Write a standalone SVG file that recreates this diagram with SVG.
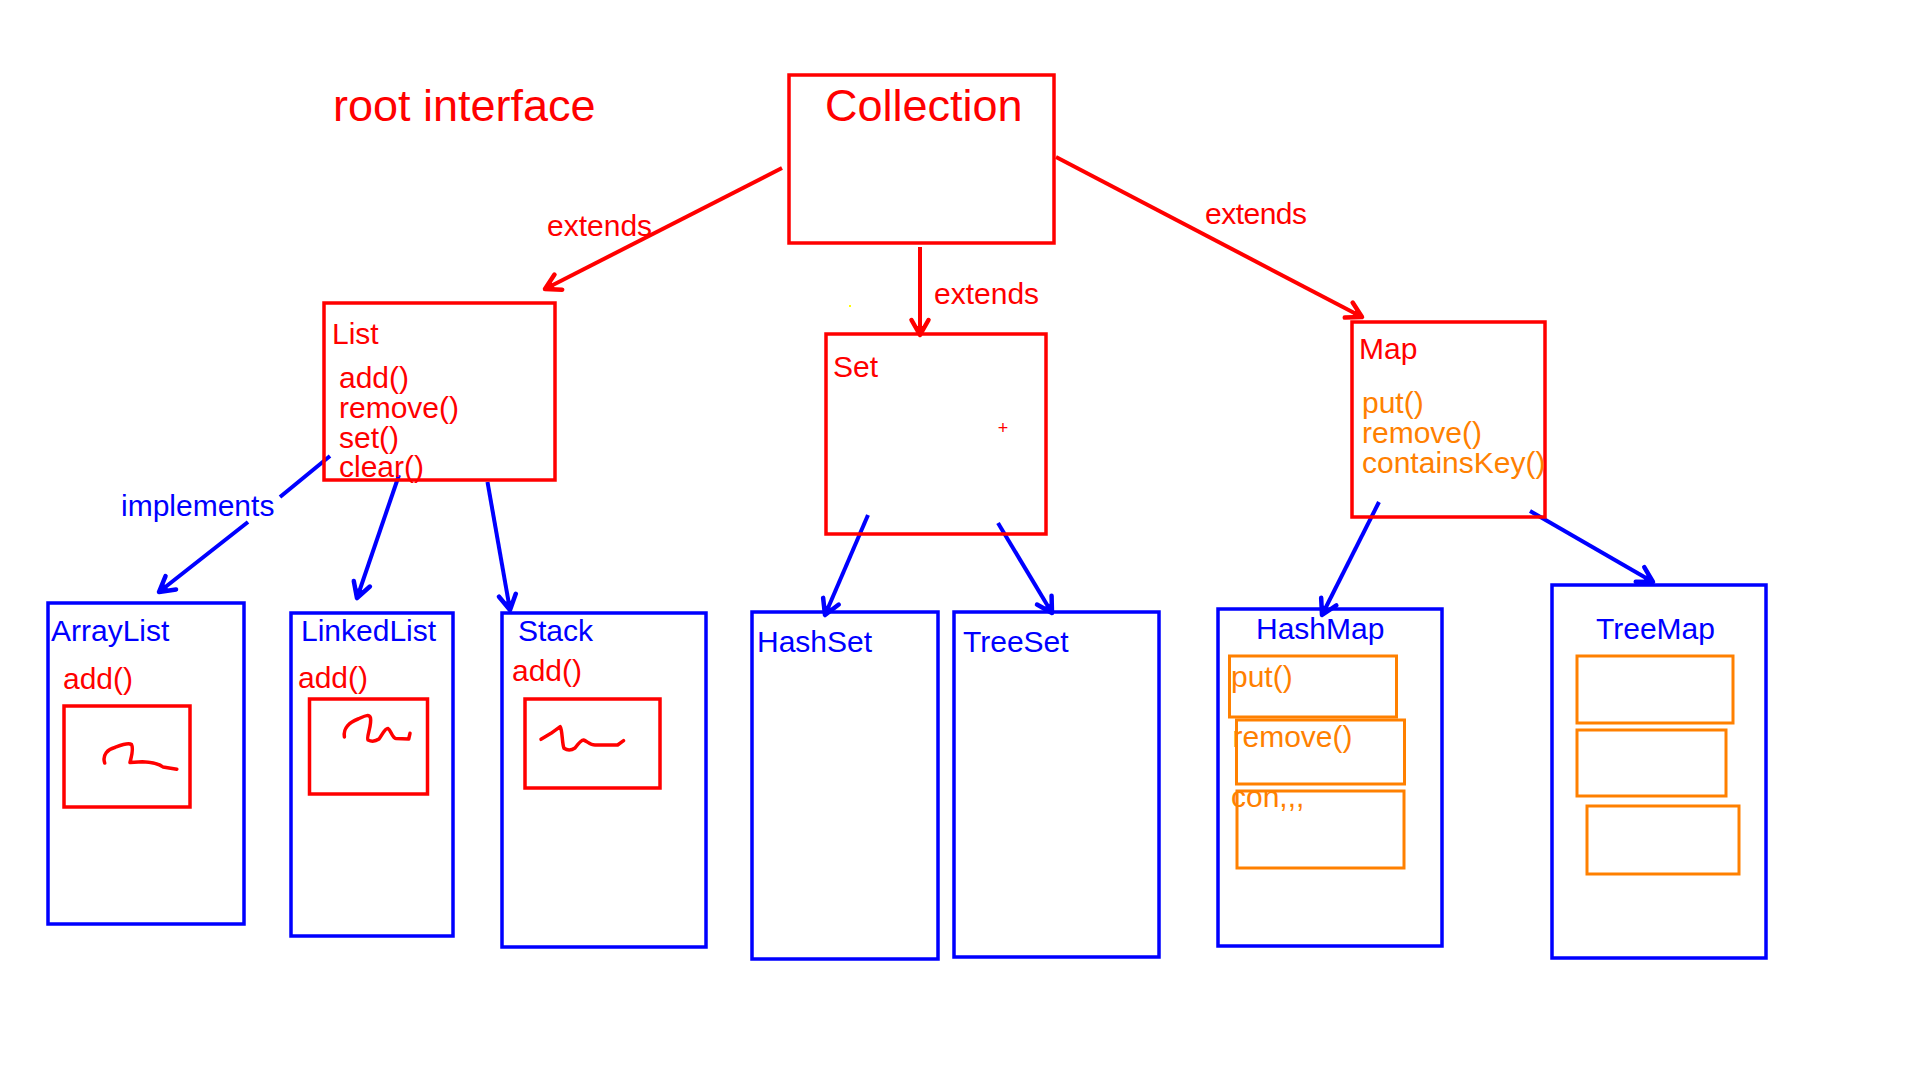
<svg xmlns="http://www.w3.org/2000/svg" width="1920" height="1080" viewBox="0 0 1920 1080">
<style>
text{font-family:"Liberation Sans",Arial,sans-serif;font-size:30px}
.r{fill:#ff0000}.b{fill:#0000ff}.o{fill:#ff8000}
.big{font-size:45px}
.rbox{fill:none;stroke:#ff0000;stroke-width:3.5}
.bbox{fill:none;stroke:#0000ff;stroke-width:3.5}
.obox{fill:none;stroke:#ff8000;stroke-width:3}
.scr{fill:none;stroke:#ff0000;stroke-width:3.5;stroke-linejoin:round;stroke-linecap:round}
.rl{fill:none;stroke:#ff0000;stroke-width:4;marker-end:url(#ar)}
.bl{fill:none;stroke:#0000ff;stroke-width:4;marker-end:url(#ab)}
</style>
<defs>
<marker id="ar" markerUnits="userSpaceOnUse" viewBox="-22 -14 26 28" markerWidth="26" markerHeight="28" refX="0" refY="0" orient="auto">
<path d="M-15,-8.5 L0,0 L-15,8.5" fill="none" stroke="#ff0000" stroke-width="4.5" stroke-linejoin="round" stroke-linecap="round"/>
<path d="M-9,-5 L1,0 L-9,5z" fill="#ff0000"/>
</marker>
<marker id="ab" markerUnits="userSpaceOnUse" viewBox="-22 -14 26 28" markerWidth="26" markerHeight="28" refX="0" refY="0" orient="auto">
<path d="M-15,-8.5 L0,0 L-15,8.5" fill="none" stroke="#0000ff" stroke-width="4.5" stroke-linejoin="round" stroke-linecap="round"/>
<path d="M-9,-5 L1,0 L-9,5z" fill="#0000ff"/>
</marker>
</defs>
<rect width="1920" height="1080" fill="#ffffff"/>

<g id="title">
<text class="r big" x="333" y="121">root interface</text>
</g>

<g id="connectors">
<path class="rl" d="M782,168 L545,289"/>
<path class="rl" d="M920,247 L920,335"/>
<path class="rl" d="M1056,157 L1362,317"/>
<path class="bl" d="M330,456 L280,497 M248,522 L159,592"/>
<path class="bl" d="M399,475 L357,598"/>
<path class="bl" d="M487.5,482 L510,610"/>
<path class="bl" d="M868,515 L825,615"/>
<path class="bl" d="M998,523 L1052,613"/>
<path class="bl" d="M1379,502 L1322,615"/>
<path class="bl" d="M1530,511 L1653,582"/>
<text class="r" x="547" y="236">extends</text>
<text class="r" x="934" y="304">extends</text>
<text class="r" x="1205" y="224" textLength="102">extends</text>
<text class="b" x="121" y="516">implements</text>
</g>

<g id="collection">
<rect class="rbox" x="789" y="75" width="265" height="168"/>
<text class="r big" x="825" y="121">Collection</text>
</g>

<g id="list">
<rect class="rbox" x="324" y="303" width="231" height="177"/>
<text class="r" x="332" y="344">List</text>
<text class="r" x="339" y="388">add()</text>
<text class="r" x="339" y="418">remove()</text>
<text class="r" x="339" y="448">set()</text>
<text class="r" x="339" y="477">clear()</text>
</g>

<g id="set">
<rect class="rbox" x="826" y="334" width="220" height="200"/>
<text class="r" x="833" y="377">Set</text>
<text class="r" x="1003" y="434" style="font-size:18px" text-anchor="middle">+</text>
<rect x="849" y="305" width="2" height="2" fill="#ffff00"/>
</g>

<g id="map">
<rect class="rbox" x="1352" y="322" width="193" height="195"/>
<text class="r" x="1359" y="359">Map</text>
<text class="o" x="1362" y="413">put()</text>
<text class="o" x="1362" y="443">remove()</text>
<text class="o" x="1362" y="473">containsKey()</text>
</g>

<g id="arraylist">
<rect class="bbox" x="48" y="603" width="196" height="321"/>
<text class="b" x="51" y="641">ArrayList</text>
<text class="r" x="63" y="689">add()</text>
<rect class="rbox" x="64" y="706" width="126" height="101"/>
<path class="scr" d="M104.7,763 C102,755 108,749 114.8,747.5 C120,745.5 128,742 131.5,744.5 C134,749 131,758 130,762.5 L142.4,761.7 C150,762 158,763 163,767 L176.8,769.3"/>
</g>

<g id="linkedlist">
<rect class="bbox" x="291" y="613" width="162" height="323"/>
<text class="b" x="301" y="641">LinkedList</text>
<text class="r" x="298" y="688">add()</text>
<rect class="rbox" x="309.5" y="699" width="118" height="95"/>
<path class="scr" d="M344.4,737 C343,728 350,722 358,719 C363,717 369,713 370.5,718 C372,725 366,738 368,740 C372,742 376,741 379,739 C382,735 385,728 388,728.5 C391,730 392,738 396,738.5 L408.7,739 L410,733.3"/>
</g>

<g id="stack">
<rect class="bbox" x="502" y="613" width="204" height="334"/>
<text class="b" x="518" y="641">Stack</text>
<text class="r" x="512" y="681">add()</text>
<rect class="rbox" x="525" y="699" width="135" height="89"/>
<path class="scr" d="M541,739.3 L551,733.3 L560.2,726.7 C562.5,730 562,744 564,748.3 C568,751 572,750 575,748 C578,744 581,740 583.5,740 C587,741 590,745 595,745 L617.6,745 L623.6,740.7"/>
</g>

<g id="hashset">
<rect class="bbox" x="752" y="612" width="186" height="347"/>
<text class="b" x="757" y="652">HashSet</text>
</g>

<g id="treeset">
<rect class="bbox" x="954" y="612" width="205" height="345"/>
<text class="b" x="963" y="652">TreeSet</text>
</g>

<g id="hashmap">
<rect class="bbox" x="1218" y="609" width="224" height="337"/>
<text class="b" x="1256" y="639">HashMap</text>
<rect class="obox" x="1229.5" y="656" width="167" height="61"/>
<text class="o" x="1231" y="687">put()</text>
<rect class="obox" x="1236.5" y="720" width="168" height="64"/>
<text class="o" x="1232.5" y="747">remove()</text>
<rect class="obox" x="1237" y="791" width="167" height="77"/>
<text class="o" x="1231" y="807">con,,,</text>
</g>

<g id="treemap">
<rect class="bbox" x="1552" y="585" width="214" height="373"/>
<text class="b" x="1596" y="639">TreeMap</text>
<rect class="obox" x="1577" y="656" width="156" height="67"/>
<rect class="obox" x="1577" y="730" width="149" height="66"/>
<rect class="obox" x="1587" y="806" width="152" height="68"/>
</g>
</svg>
